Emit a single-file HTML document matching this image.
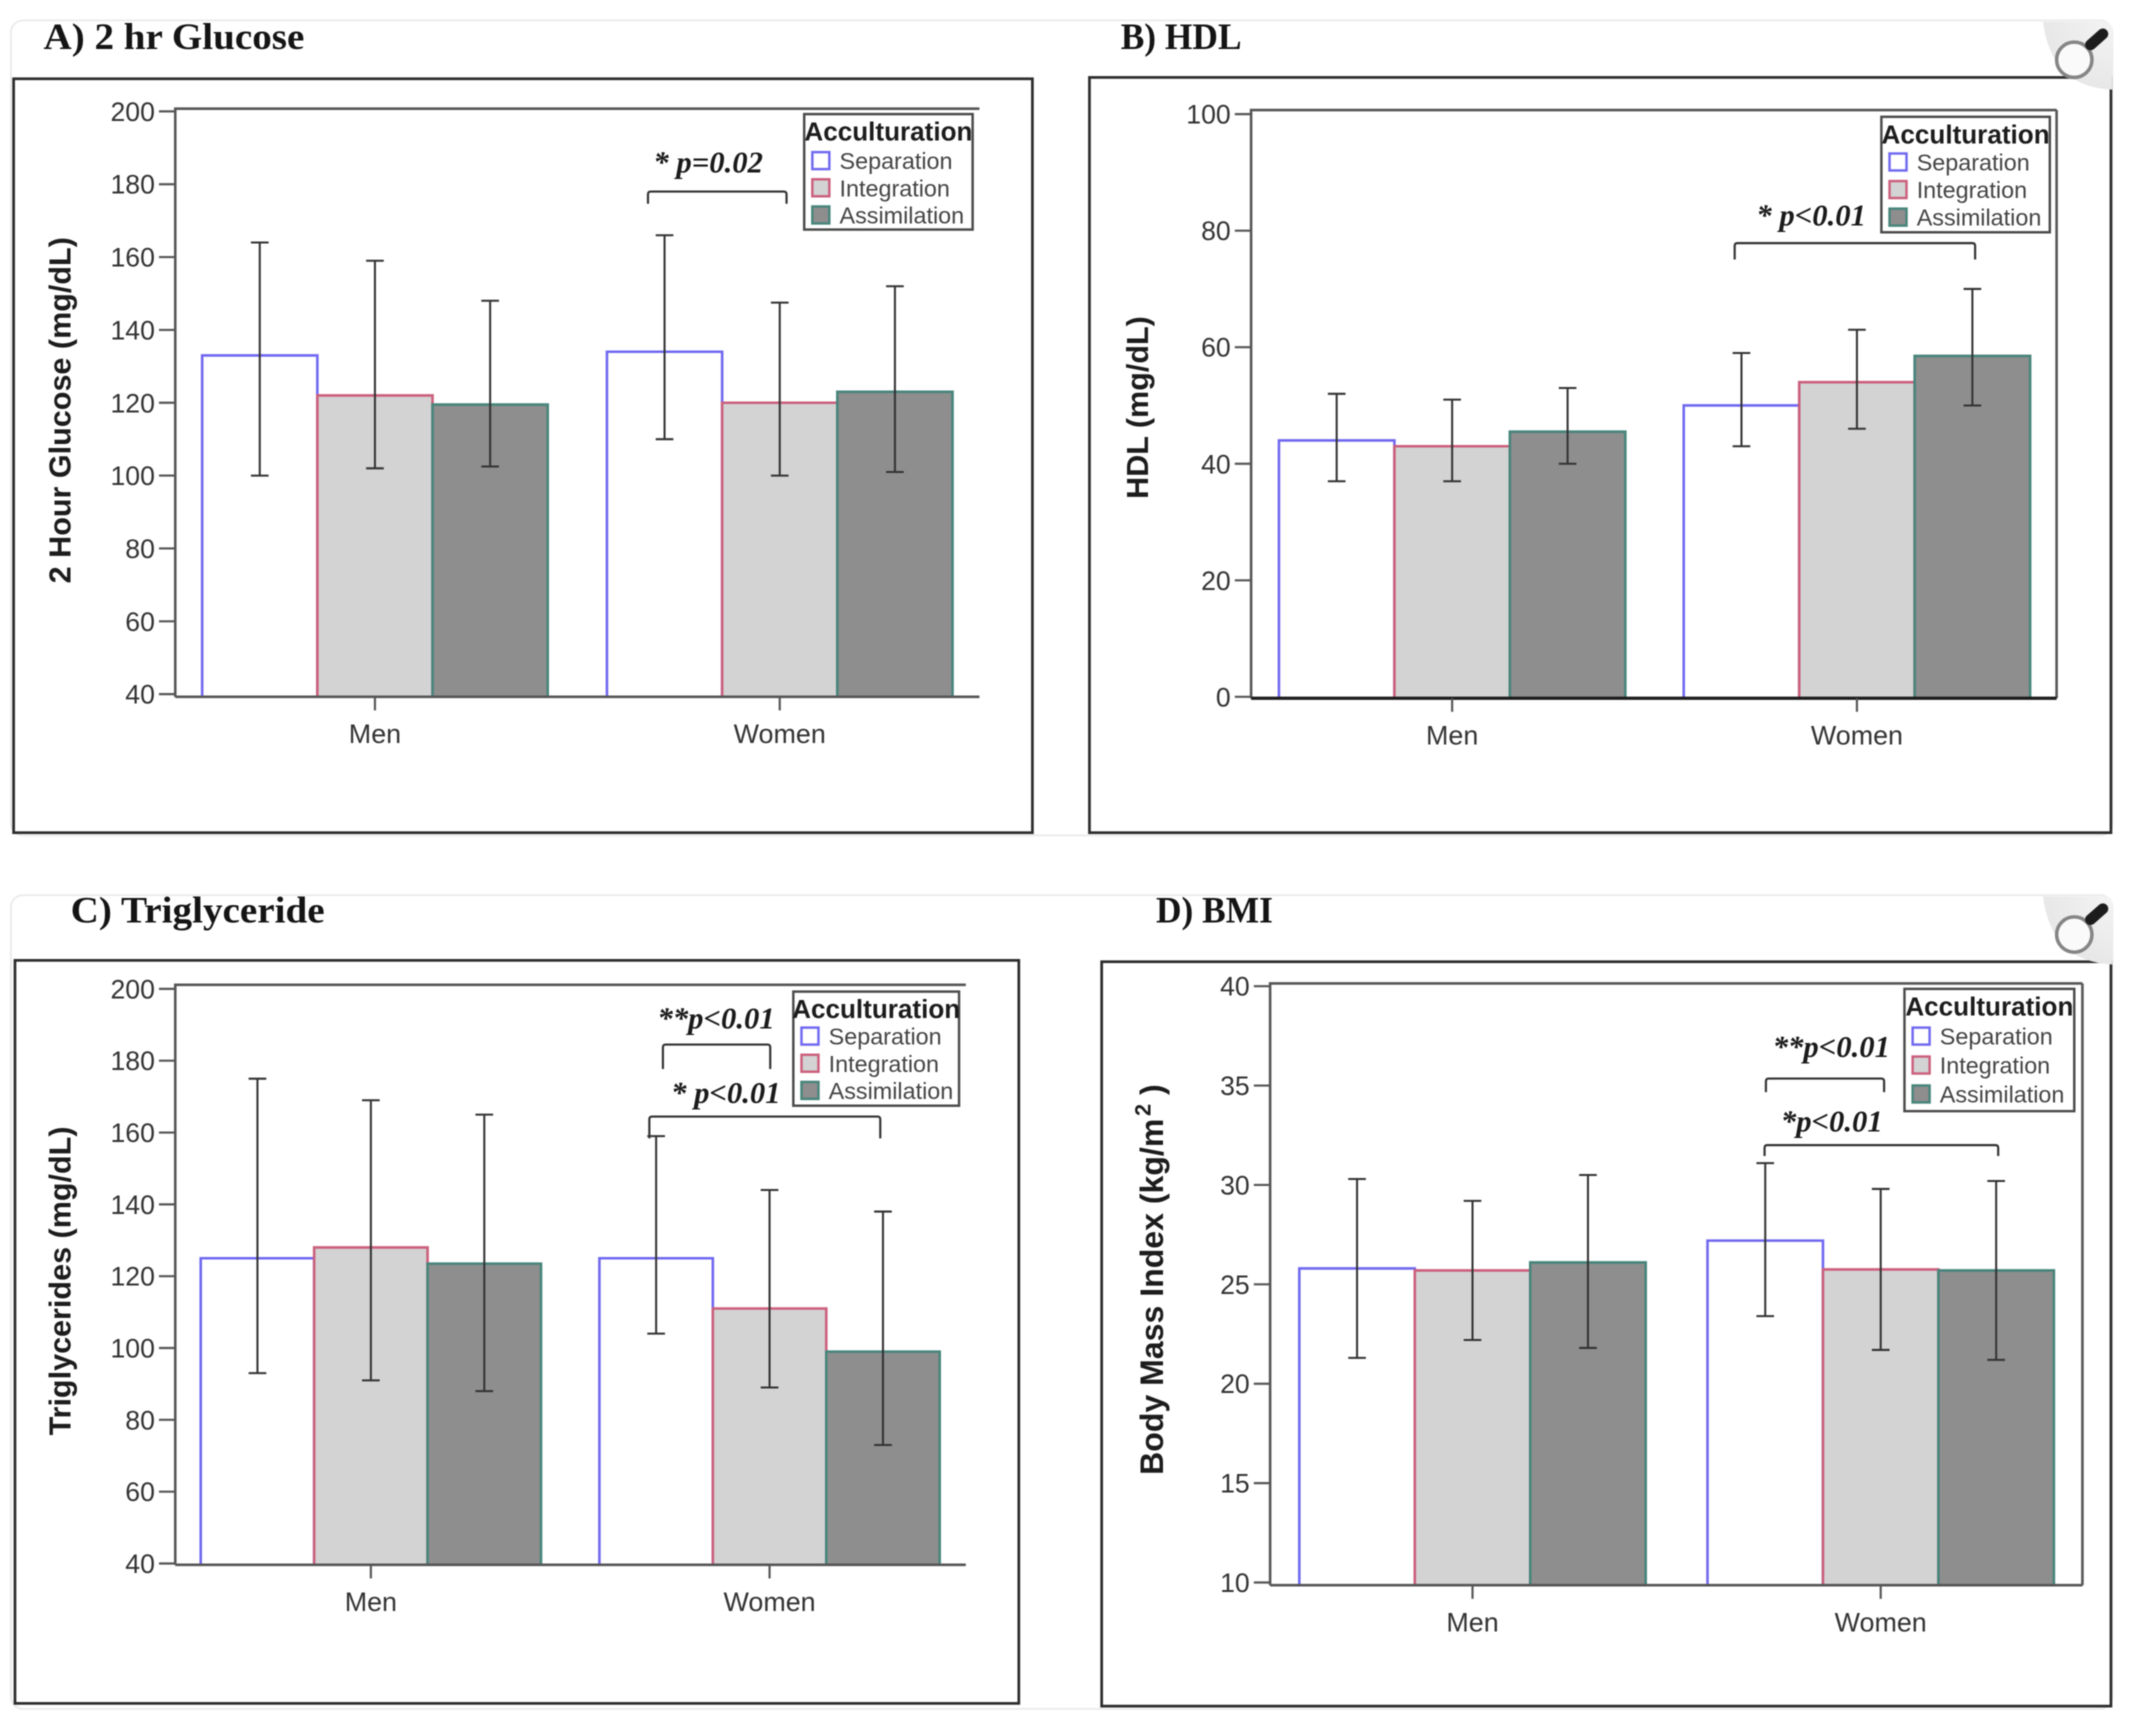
<!DOCTYPE html>
<html lang="en">
<head>
<meta charset="utf-8">
<title>Acculturation bar charts</title>
<style>
  html, body { margin: 0; padding: 0; background: #fff; width: 2130px; height: 1736px; overflow: hidden; }
  svg { display: block; filter: blur(0.6px); }
  text { font-family: "Liberation Sans", sans-serif; }
  .panel-title { font-family: "Liberation Serif", serif; font-weight: bold; font-size: 27px; fill: #141414; }
  .p-label { font-family: "Liberation Serif", serif; font-weight: bold; font-style: italic; font-size: 22.6px; fill: #1a1a1a; }
</style>
</head>
<body>
<svg id="figure" xmlns="http://www.w3.org/2000/svg" width="2130" height="1736" viewBox="0 0 1568 1278">
  <defs>
    <radialGradient id="cornerFill" cx="100%" cy="0%" r="110%">
      <stop offset="0%" stop-color="#f4f4f4"/>
      <stop offset="100%" stop-color="#e6e6e6"/>
    </radialGradient>
  </defs>
  <rect x="8" y="15" width="1547" height="600" rx="9" fill="#fff" stroke="#ececec" stroke-width="1.5"/>
  <rect x="8" y="659" width="1547" height="599" rx="9" fill="#fff" stroke="#ececec" stroke-width="1.5"/>

  <text class="panel-title" x="32" y="36" textLength="192" lengthAdjust="spacingAndGlyphs">A) 2 hr Glucose</text>
  <text class="panel-title" x="825" y="36" textLength="89" lengthAdjust="spacingAndGlyphs">B) HDL</text>
  <text class="panel-title" x="52" y="679" textLength="187" lengthAdjust="spacingAndGlyphs">C) Triglyceride</text>
  <text class="panel-title" x="851" y="679" textLength="86" lengthAdjust="spacingAndGlyphs">D) BMI</text>

  <g id="panels"></g>

  <g>
    <path d="M1504 16 H1549 Q1555 16 1555 22 V66 Q1510 64 1504 16 Z" fill="url(#cornerFill)"/>
    <circle cx="1527" cy="44" r="13" fill="#fafafa" stroke="#858585" stroke-width="2.6"/>
    <line x1="1539" y1="33" x2="1548" y2="25" stroke="#1c1c1c" stroke-width="8" stroke-linecap="round"/>
  </g>
  <g>
    <path d="M1504 660 H1549 Q1555 660 1555 666 V710 Q1510 708 1504 660 Z" fill="url(#cornerFill)"/>
    <circle cx="1527" cy="688" r="13" fill="#fafafa" stroke="#858585" stroke-width="2.6"/>
    <line x1="1539" y1="677" x2="1548" y2="669" stroke="#1c1c1c" stroke-width="8" stroke-linecap="round"/>
  </g>
</svg>

<script>
// ---- Shared categories and series ----
const categories = ['Men', 'Women'];
const seriesNames = ['Separation', 'Integration', 'Assimilation'];

// ---- Panel A: 2 hour glucose (Men x 3, Women x 3) ----
const glucoseMeans = [133, 122, 119.5, 134, 120, 123];
const glucoseLow = [100, 102, 102.5, 110, 100, 101];
const glucoseHigh = [164, 159, 148, 166, 147.5, 152];
const glucoseTicks = [40, 60, 80, 100, 120, 140, 160, 180, 200];

// ---- Panel B: HDL ----
const hdlMeans = [44, 43, 45.5, 50, 54, 58.5];
const hdlLow = [37, 37, 40, 43, 46, 50];
const hdlHigh = [52, 51, 53, 59, 63, 70];
const hdlTicks = [0, 20, 40, 60, 80, 100];

// ---- Panel C: triglycerides ----
const trigMeans = [125, 128, 123.5, 125, 111, 99];
const trigLow = [93, 91, 88, 104, 89, 73];
const trigHigh = [175, 169, 165, 159, 144, 138];
const trigTicks = [40, 60, 80, 100, 120, 140, 160, 180, 200];

// ---- Panel D: BMI ----
const bmiMeans = [25.8, 25.7, 26.1, 27.2, 25.75, 25.7];
const bmiLow = [21.3, 22.2, 21.8, 23.4, 21.7, 21.2];
const bmiHigh = [30.3, 29.2, 30.5, 31.1, 29.8, 30.2];
const bmiTicks = [10, 15, 20, 25, 30, 35, 40];

const SVG_NS = 'http://www.w3.org/2000/svg';
const barStroke = ['#7068f0', '#cb5f7c', '#47857b'];
const barFill = ['#ffffff', '#d3d3d3', '#8e8e8e'];

function make(parent, tag, attrs, content) {
  const node = document.createElementNS(SVG_NS, tag);
  Object.keys(attrs).forEach(function (k) { node.setAttribute(k, attrs[k]); });
  if (content !== undefined) node.textContent = content;
  parent.appendChild(node);
  return node;
}

function drawPanel(cfg) {
  const root = document.getElementById('panels');
  const g = make(root, 'g', {});
  
  

  const frame = make(g, 'rect', { x: cfg.frame[0], y: cfg.frame[1], width: cfg.frame[2] - cfg.frame[0], height: cfg.frame[3] - cfg.frame[1], fill: '#fff', stroke: '#2c2c2c', 'stroke-width': 2 });
  
  

  const ticks = cfg.ticks;
  const dMin = ticks[0];
  const dMax = ticks[ticks.length - 1];
  function yScale(v) { return cfg.yBottom - (v - dMin) * (cfg.yBottom - cfg.yTop) / (dMax - dMin); }
  function xCenter(c) { return cfg.xFirst + c * cfg.xStep; }

  // bars
  cfg.means.forEach(function (m, i) {
    const cat = Math.floor(i / 3);
    const ser = i % 3;
    const left = xCenter(cat) + (ser - 1.5) * cfg.barW;
    const top = yScale(m);
    const bar = make(g, 'path', {
      d: 'M' + left + ' ' + cfg.plot[3] + ' V' + top + ' H' + (left + cfg.barW) + ' V' + cfg.plot[3],
      fill: barFill[ser], stroke: barStroke[ser], 'stroke-width': 1.9
    });
    
    
  });

  // plot axes
  const p = cfg.plot;
  const axisPath = 'M' + p[2] + ' ' + p[1] + ' H' + p[0] + ' V' + p[3] + (cfg.rightLine ? ' M' + p[2] + ' ' + p[1] + ' V' + p[3] : '');
  const axisFrame = make(g, 'path', { d: axisPath, fill: 'none', stroke: '#565656', 'stroke-width': 1.9 });
  
  
  const xAxis = make(g, 'line', { x1: p[0], y1: p[3], x2: p[2], y2: p[3], stroke: cfg.axisDark ? '#1c1c1c' : '#565656', 'stroke-width': cfg.axisDark ? 2.4 : 1.9 });
  
  

  // y ticks
  ticks.forEach(function (t) {
    const y = yScale(t);
    const mark = make(g, 'line', { x1: p[0] - 12, y1: y, x2: p[0], y2: y, stroke: '#565656', 'stroke-width': 1.6 });
    
    
    const label = make(g, 'text', { x: p[0] - 15, y: y + 7, 'text-anchor': 'end', 'font-size': 19.6, fill: '#333' }, String(t));
    
    
  });

  // x ticks
  categories.forEach(function (c, i) {
    const x = xCenter(i);
    const mark = make(g, 'line', { x1: x, y1: p[3], x2: x, y2: p[3] + 10, stroke: '#565656', 'stroke-width': 1.6 });
    
    
    const label = make(g, 'text', { x: x, y: p[3] + 34, 'text-anchor': 'middle', 'font-size': 19.8, fill: '#333' }, c);
    
    
  });

  // y title
  const title = make(g, 'text', {
    transform: 'translate(' + cfg.yTitle[0] + ' ' + cfg.yTitle[1] + ') rotate(-90)',
    'text-anchor': 'middle', 'font-size': cfg.yFont || 22.5, 'font-weight': 'bold', fill: '#1c1c1c'
  });
  
  
  title.textContent = cfg.yLabel;
  if (cfg.yLabelSup) {
    const sup = make(title, 'tspan', { dy: -9, dx: 2, 'font-size': 16 }, cfg.yLabelSup);
    
    
    const close = make(title, 'tspan', { dy: 9 }, ' )');
    
    
  }

  // error bars
  cfg.low.forEach(function (lo, i) {
    const cat = Math.floor(i / 3);
    const ser = i % 3;
    const x = xCenter(cat) + (ser - 1) * cfg.barW;
    const yLo = yScale(lo);
    const yHi = yScale(cfg.high[i]);
    const err = make(g, 'path', {
      d: 'M' + x + ' ' + yLo + ' V' + yHi + ' M' + (x - 6.5) + ' ' + yHi + ' H' + (x + 6.5) + ' M' + (x - 6.5) + ' ' + yLo + ' H' + (x + 6.5),
      fill: 'none', stroke: '#333', 'stroke-width': 1.5
    });
    
    
  });

  // legend
  const L = cfg.legend;
  const lg = make(g, 'g', {});
  
  
  const box = make(lg, 'rect', { x: L.x, y: L.y, width: L.w, height: L.h, fill: '#fff', stroke: '#4a4a4a', 'stroke-width': 1.8 });
  
  
  const lt = make(lg, 'text', { x: L.x + L.w / 2, y: L.y + 19.5, 'text-anchor': 'middle', 'font-size': 19.2, 'font-weight': 'bold', fill: '#1c1c1c' }, 'Acculturation');
  
  
  seriesNames.forEach(function (s, i) {
    const cy = L.y + L.first + i * L.gap;
    const sw = make(lg, 'rect', { x: L.x + 6, y: cy - 6.5, width: 12.5, height: 12.5, fill: barFill[i], stroke: barStroke[i], 'stroke-width': 1.8 });
    
    
    const tx = make(lg, 'text', { x: L.x + 26, y: cy + 6, 'font-size': 17.2, fill: '#444' }, s);
    
    
  });

  // significance brackets
  cfg.brackets.forEach(function (b) {
    const br = make(g, 'path', {
      d: 'M' + b.x1 + ' ' + (b.y + b.drop) + ' V' + (b.y + 2) + ' Q' + b.x1 + ' ' + b.y + ' ' + (b.x1 + 2) + ' ' + b.y + ' H' + (b.x2 - 2) + ' Q' + b.x2 + ' ' + b.y + ' ' + b.x2 + ' ' + (b.y + 2) + ' V' + (b.y + b.drop),
      fill: 'none', stroke: '#333', 'stroke-width': 1.6
    });
    
    
    const t = make(g, 'text', { x: b.tx, y: b.ty, 'class': 'p-label' }, b.label);
    
    
  });
}

drawPanel({
  id: 'glucose', frame: [10, 58, 760, 613], plot: [129, 80, 721, 513],
  ticks: glucoseTicks, yTop: 82, yBottom: 511,
  xFirst: 276, xStep: 298, barW: 84.8,
  means: glucoseMeans, low: glucoseLow, high: glucoseHigh,
  yLabel: '2 Hour Glucose (mg/dL)', yTitle: [52, 302],
  legend: { x: 592, y: 84, w: 124, h: 85, first: 34.5, gap: 20 },
  brackets: [{ x1: 477, x2: 579, y: 141, drop: 9, tx: 481, ty: 127, label: '* p=0.02' }]
});
drawPanel({
  id: 'hdl', frame: [802, 57, 1554, 613], plot: [921, 81, 1514, 514], rightLine: true, axisDark: true,
  ticks: hdlTicks, yTop: 84, yBottom: 513,
  xFirst: 1069, xStep: 298, barW: 85,
  means: hdlMeans, low: hdlLow, high: hdlHigh,
  yLabel: 'HDL (mg/dL)', yTitle: [845, 300],
  legend: { x: 1385, y: 86, w: 124, h: 85, first: 33.5, gap: 20.3 },
  brackets: [{ x1: 1277, x2: 1454, y: 179, drop: 12, tx: 1293, ty: 166, label: '* p<0.01' }]
});
drawPanel({
  id: 'triglycerides', frame: [11, 707, 750, 1254], plot: [129, 725, 711, 1152],
  ticks: trigTicks, yTop: 728, yBottom: 1151,
  xFirst: 273, xStep: 293.5, barW: 83.5,
  means: trigMeans, low: trigLow, high: trigHigh,
  yLabel: 'Triglycerides (mg/dL)', yTitle: [52, 943],
  legend: { x: 584, y: 730, w: 122, h: 84, first: 33, gap: 20 },
  brackets: [
    { x1: 488, x2: 567, y: 769, drop: 18, tx: 484, ty: 757, label: '**p<0.01' },
    { x1: 478, x2: 648, y: 822, drop: 16, tx: 494, ty: 812, label: '* p<0.01' }
  ]
});
drawPanel({
  id: 'bmi', frame: [811, 708, 1554, 1256], plot: [935, 724, 1533, 1167], rightLine: true,
  ticks: bmiTicks, yTop: 726, yBottom: 1165,
  xFirst: 1084, xStep: 300.5, barW: 85,
  means: bmiMeans, low: bmiLow, high: bmiHigh,
  yLabel: 'Body Mass Index (kg/m', yLabelSup: '2', yFont: 23.6, yTitle: [856, 942],
  legend: { x: 1402, y: 728, w: 125, h: 90, first: 35, gap: 21.3 },
  brackets: [
    { x1: 1300, x2: 1387, y: 794, drop: 10, tx: 1305, ty: 778, label: '**p<0.01' },
    { x1: 1299, x2: 1471, y: 843, drop: 8, tx: 1311, ty: 833, label: '*p<0.01' }
  ]
});
</script>
</body>
</html>
